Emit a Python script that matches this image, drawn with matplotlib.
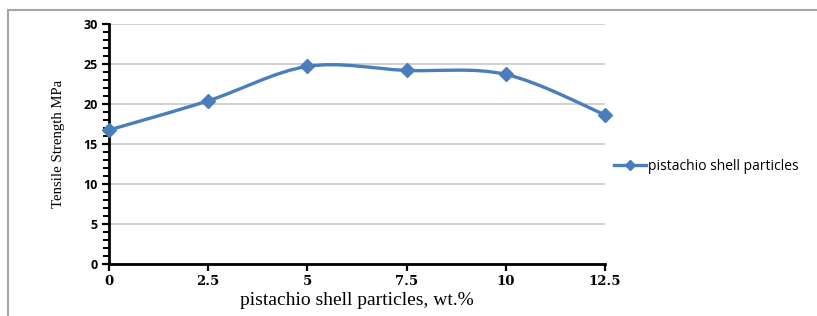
import matplotlib
matplotlib.use("Agg")
import matplotlib.pyplot as plt
from matplotlib.path import Path
from matplotlib.patches import PathPatch
from matplotlib.lines import Line2D
import numpy as np

# ---- data ----
wt_percent = [0, 2.5, 5, 7.5, 10, 12.5]
tensile_mpa = [16.75, 20.4, 24.7, 24.2, 23.7, 18.65]
series_name = "pistachio shell particles"
x_label = "pistachio shell particles, wt.%"
y_label = "Tensile Strength MPa"
x_ticks = [0, 2.5, 5, 7.5, 10, 12.5]
x_tick_labels = ["0", "2.5", "5", "7.5", "10", "12.5"]
y_ticks = [0, 5, 10, 15, 20, 25, 30]

W, H = 817, 316
fig = plt.figure(figsize=(W / 100, H / 100), dpi=100)
ax = fig.add_axes([109 / W, 1 - 264 / H, (605 - 109) / W, (264 - 24) / H])

color = "#4a7ebb"

# smoothed line (Excel-style Catmull-Rom Bezier) built from the data
pts = np.column_stack([wt_percent, tensile_mpa]).astype(float)
n = len(pts)
verts = [tuple(pts[0])]
codes = [Path.MOVETO]
for i in range(n - 1):
    p0 = pts[i - 1] if i > 0 else pts[i]
    p1 = pts[i]
    p2 = pts[i + 1]
    p3 = pts[i + 2] if i + 2 < n else pts[i + 1]
    c1 = p1 + (p2 - p0) / 6.0
    c2 = p2 - (p3 - p1) / 6.0
    verts += [tuple(c1), tuple(c2), tuple(p2)]
    codes += [Path.CURVE4] * 3
ax.add_patch(PathPatch(Path(verts, codes), facecolor="none", edgecolor=color,
                       lw=2.4, zorder=3, capstyle="round"))
ax.plot(wt_percent, tensile_mpa, linestyle="none", marker="D", markersize=7,
        color=color, zorder=4, clip_on=False)

ax.set_xlim(0, 12.5)
ax.set_ylim(0, 30)
ax.set_yticks(y_ticks)
ax.set_yticks(np.arange(0, 31, 1), minor=True)
ax.set_xticks(x_ticks)
ax.set_xticklabels(x_tick_labels)
ax.grid(axis="y", which="major", color="#c8c8c8", lw=1.2, zorder=0)
ax.set_axisbelow(True)

for s in ["top", "right"]:
    ax.spines[s].set_visible(False)
for s in ["left", "bottom"]:
    ax.spines[s].set_linewidth(2)
    ax.spines[s].set_color("black")

ax.tick_params(axis="y", which="major", direction="out", length=5, width=1.6,
               pad=3)
ax.tick_params(axis="y", which="minor", direction="out", length=4, width=1.4)
ax.tick_params(axis="x", which="major", direction="out", length=5, width=1.6,
               pad=3)
for lab in ax.get_yticklabels():
    lab.set_fontfamily("Open Sans")
    lab.set_fontweight("bold")
    lab.set_fontsize(9)
for lab in ax.get_xticklabels():
    lab.set_fontfamily("DejaVu Serif")
    lab.set_fontweight("bold")
    lab.set_fontsize(9.5)

ax.set_xlabel(x_label, fontfamily="Liberation Serif", fontsize=14, labelpad=3)
ax.set_ylabel(y_label, fontfamily="Liberation Serif", fontsize=10.6, labelpad=13)

handle = Line2D([], [], color=color, lw=2.4, marker="D", markersize=5)
leg = fig.legend([handle], [series_name], loc="center left",
                 bbox_to_anchor=(608 / W, 1 - 166 / H), frameon=False,
                 prop={"family": "Open Sans", "size": 10},
                 handlelength=2.3, handletextpad=0.15, borderaxespad=0)

# page frame around the chart
fx = 8 / W
fy = 1 - 10 / H
fig.add_artist(Line2D([fx, 1], [fy, fy], transform=fig.transFigure,
                      color="#a6a6a6", lw=1.5))
fig.add_artist(Line2D([fx, fx], [0, fy], transform=fig.transFigure,
                      color="#a6a6a6", lw=1.5))

fig.savefig("out.png", dpi=100)
